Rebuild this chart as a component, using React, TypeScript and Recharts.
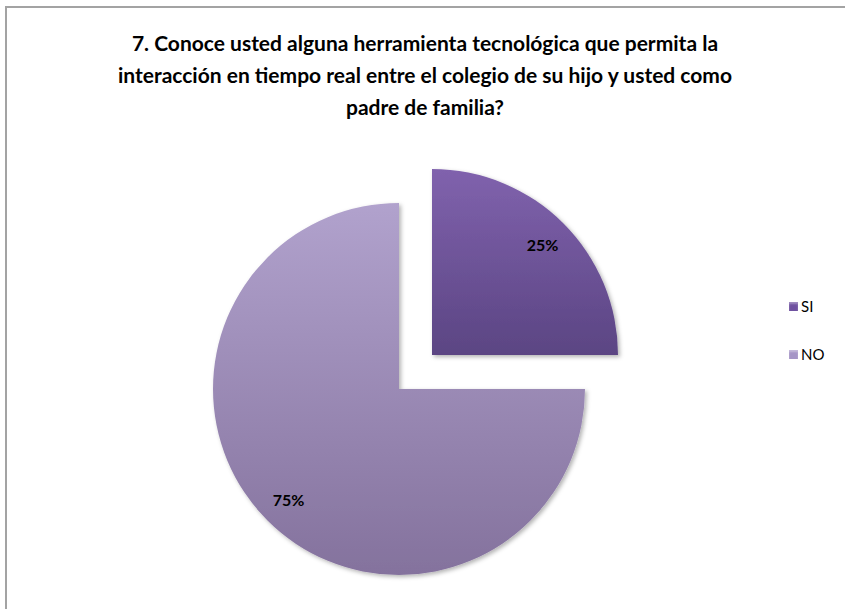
import React from "react";
import { PieChart, Pie, Cell, Legend } from "recharts";

const titleLines = [
  "7. Conoce usted alguna herramienta tecnológica que permita la",
  "interacción en tiempo real entre el colegio de su hijo y usted como",
  "padre de familia?",
];
const categories = ["SI", "NO"];
const values = [25, 75];
const labels = ["25%", "75%"];
const gradIds = ["gradSI", "gradNO"];
const legendColors = ["#6f52a0", "#a595c6"];

const data = categories.map((name, i) => ({ name, value: values[i], label: labels[i] }));

const RAD = Math.PI / 180;
const makeLabel = (showIndex: number) => (props: any) => {
  const { cx, cy, midAngle, outerRadius, index } = props;
  if (index !== showIndex) return null;
  const r = outerRadius * 0.84;
  const x = cx + r * Math.cos(-midAngle * RAD);
  const y = cy + r * Math.sin(-midAngle * RAD);
  return (
    <text
      x={x}
      y={y}
      textAnchor="middle"
      dominantBaseline="central"
      fontFamily="Lato, 'DejaVu Sans', sans-serif"
      fontWeight={700}
      fontSize={16}
      fill="#000"
    >
      {data[index].label}
    </text>
  );
};

const renderLegend = () => (
  <div style={{ fontFamily: "Lato, 'DejaVu Sans', sans-serif", fontSize: 15, color: "#000" }}>
    {categories.map((c, i) => (
      <div key={c} style={{ display: "flex", alignItems: "center", height: 20, marginBottom: i === 0 ? 28 : 0 }}>
        <span
          style={{
            display: "inline-block",
            width: 9,
            height: 9,
            marginRight: 3,
            background: legendColors[i],
            boxShadow: "inset 0 2px 2px rgba(255,255,255,0.35)",
          }}
        />
        <span>{c}</span>
      </div>
    ))}
  </div>
);

export default function App() {
  return (
    <div style={{ position: "absolute", left: 0, top: 0, width: 845, height: 609, background: "#fff", overflow: "hidden" }}>
      <div
        style={{
          position: "absolute",
          left: 5,
          top: 6,
          width: 900,
          height: 700,
          borderLeft: "2px solid #a3a3a3",
          borderTop: "2px solid #a3a3a3",
        }}
      />
      <div
        style={{
          position: "absolute",
          left: 0,
          top: 27,
          width: 850,
          textAlign: "center",
          fontFamily: "Lato, 'DejaVu Sans', sans-serif",
          fontWeight: 700,
          fontSize: 21,
          lineHeight: "32px",
          color: "#000",
        }}
      >
        {titleLines.map((l) => (
          <div key={l}>{l}</div>
        ))}
      </div>
      <div style={{ position: "absolute", left: 0, top: 0 }}>
        <PieChart width={845} height={609}>
          <defs>
            <linearGradient id="gradSI" x1="0" y1="0" x2="0" y2="1">
              <stop offset="0%" stopColor="#8062ad" />
              <stop offset="100%" stopColor="#5b4583" />
            </linearGradient>
            <linearGradient id="gradNO" x1="0" y1="0" x2="0" y2="1">
              <stop offset="0%" stopColor="#b1a2cd" />
              <stop offset="100%" stopColor="#84729d" />
            </linearGradient>
            <filter id="shadow" x="-10%" y="-10%" width="130%" height="130%">
              <feDropShadow dx="2" dy="2" stdDeviation="2" floodColor="#000" floodOpacity="0.3" />
            </filter>
          </defs>
          <Pie
            data={data}
            dataKey="value"
            nameKey="name"
            cx={394}
            cy={384}
            outerRadius={186}
            startAngle={90}
            endAngle={-270}
            isAnimationActive={false}
            labelLine={false}
            label={makeLabel(1)}
            legendType="none"
            stroke="none"
          >
            {data.map((d, i) => (
              <Cell
                key={d.name}
                fill={i === 1 ? `url(#${gradIds[i]})` : "none"}
                stroke="none"
                filter={i === 1 ? "url(#shadow)" : undefined}
              />
            ))}
          </Pie>
          <Pie
            data={data}
            dataKey="value"
            nameKey="name"
            cx={427}
            cy={350}
            outerRadius={186}
            startAngle={90}
            endAngle={-270}
            isAnimationActive={false}
            labelLine={false}
            label={makeLabel(0)}
            legendType="none"
            stroke="none"
          >
            {data.map((d, i) => (
              <Cell
                key={d.name}
                fill={i === 0 ? `url(#${gradIds[i]})` : "none"}
                stroke="none"
                filter={i === 0 ? "url(#shadow)" : undefined}
              />
            ))}
          </Pie>
          <Legend
            content={renderLegend}
            wrapperStyle={{ position: "absolute", left: 789, top: 296, width: 60 }}
          />
        </PieChart>
      </div>
    </div>
  );
}
